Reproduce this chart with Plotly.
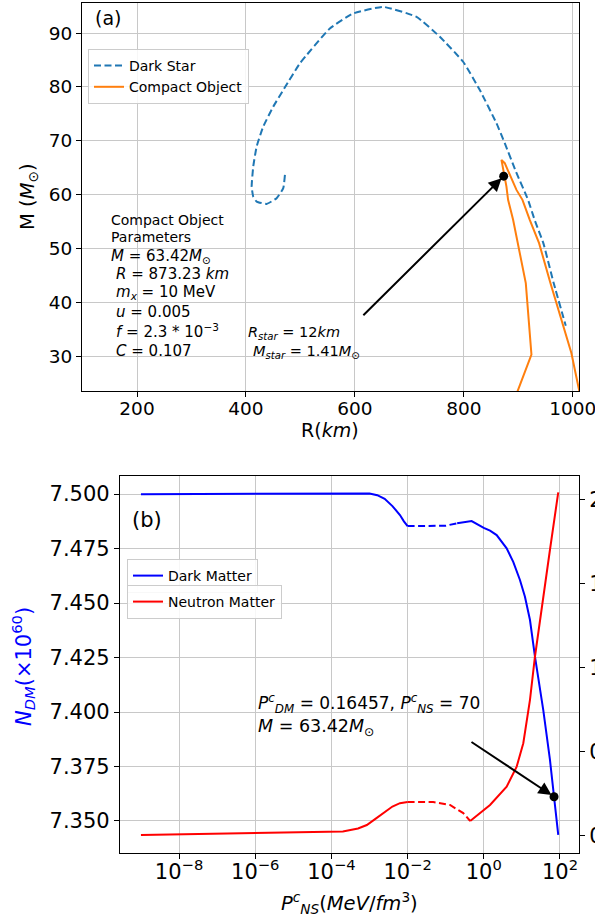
import math
import plotly.graph_objects as go

W, H = 595, 922
FONT = "DejaVu Sans"

# ---------------- Panel (a) data ----------------
dark_star_R = [471.6, 468.5, 456.3, 438.0, 419.6, 413.4, 410.5, 413.4, 419.6, 431.7,
               450.1, 471.6, 499.1, 554.1, 596.9, 651.9, 713.2, 756.0, 798.8, 829.4,
               860.0, 875.2, 896.0, 918.0, 930.0, 946.0, 965.0, 987.2]
dark_star_M = [63.65, 61.19, 59.33, 58.27, 58.70, 59.63, 61.48, 65.19, 68.91, 72.62,
               76.33, 79.93, 84.38, 90.87, 93.65, 94.88, 93.03, 89.32, 84.68, 79.42,
               73.25, 69.54, 64.20, 59.00, 55.31, 50.98, 43.56, 35.64]
compact_R = [898.5, 924.2, 913.8, 899.6, 890.5, 881.3, 878.3, 869.1, 875.2, 896.7,
             907.7, 921.1, 938.2, 959.0, 982.2, 997.5, 1013.0]
compact_M = [23.4, 30.26, 43.56, 50.36, 55.31, 59.02, 61.48, 66.44, 65.83, 60.87,
             59.02, 55.31, 50.98, 43.56, 35.64, 30.57, 23.0]
co_point_R = 873.23
co_point_M = 63.42
a_xticks = [200, 400, 600, 800, 1000]
a_yticks = [30, 40, 50, 60, 70, 80, 90]

# ---------------- Panel (b) data ----------------
dm_P_solid1 = [1e-9, 1e-7, 1e-5, 1e-4, 1e-3, 1.6e-3, 2.5e-3, 4.0e-3, 6.3e-3, 8.0e-3, 1.0e-2]
dm_N_solid1 = [7.4999, 7.5001, 7.5003, 7.5004, 7.5003, 7.4995, 7.4978, 7.4945, 7.4904, 7.4875, 7.4853]
dm_P_dash = [1.0e-2, 3.0e-2, 0.1, 0.2]
dm_N_dash = [7.4853, 7.4853, 7.4855, 7.4866]
dm_P_solid2 = [0.2, 0.48, 1.0, 1.46, 2.18, 3.99, 5.94, 8.91, 12.05, 16.33, 22.08, 36.5, 54.7, 70.0, 90.2]
dm_N_solid2 = [7.4866, 7.4876, 7.4845, 7.4832, 7.4812, 7.4751, 7.4689, 7.4606, 7.4529, 7.4422,
               7.4254, 7.4009, 7.3780, 7.3611, 7.3436]

ns_P_solid1 = [1e-9, 1e-7, 1e-5, 1e-4, 2.0e-4, 5.0e-4, 8.5e-4, 1.4e-3, 2.3e-3, 4.0e-3, 6.3e-3, 1.0e-2]
ns_V_solid1 = [0.006, 0.015, 0.023, 0.025, 0.027, 0.045, 0.065, 0.100, 0.135, 0.175, 0.195, 0.202]
ns_P_dash = [1.0e-2, 0.047, 0.13, 0.29, 0.44]
ns_V_dash = [0.202, 0.202, 0.184, 0.136, 0.089]
ns_P_solid2 = [0.44, 1.46, 3.99, 7.31, 10.9, 16.33, 22.08, 36.5, 54.7, 90.2]
ns_V_solid2 = [0.089, 0.184, 0.293, 0.412, 0.551, 0.809, 1.066, 1.403, 1.700, 2.041]

dm_point_P = 70.0
dm_point_N = 7.3611

b_xticks = [1e-8, 1e-6, 1e-4, 1e-2, 1e0, 1e2]
b_xticklabels = ["10<sup>−8</sup>", "10<sup>−6</sup>", "10<sup>−4</sup>",
                 "10<sup>−2</sup>", "10<sup>0</sup>", "10<sup>2</sup>"]
b_yticks = [7.350, 7.375, 7.400, 7.425, 7.450, 7.475, 7.500]
b_y2ticks = [0.0, 0.5, 1.0, 1.5, 2.0]


def px_x(p):
    return p / W


def px_y(p):
    return 1 - p / H


fig = go.Figure()

# ---- Panel (a) traces ----
fig.add_trace(go.Scatter(x=dark_star_R, y=dark_star_M, mode="lines", name="Dark Star",
                         line=dict(color="#1f77b4", width=2, dash="7px,3.5px", shape="spline", smoothing=0.4),
                         xaxis="x", yaxis="y", legend="legend"))
fig.add_trace(go.Scatter(x=compact_R, y=compact_M, mode="lines", name="Compact Object",
                         line=dict(color="#ff7f0e", width=2),
                         xaxis="x", yaxis="y", legend="legend"))
fig.add_trace(go.Scatter(x=[co_point_R], y=[co_point_M], mode="markers", showlegend=False,
                         marker=dict(color="black", size=9), xaxis="x", yaxis="y"))

# ---- Panel (b) traces ----
fig.add_trace(go.Scatter(x=dm_P_solid1, y=dm_N_solid1, mode="lines", name="Dark Matter",
                         line=dict(color="#0000ff", width=2), xaxis="x2", yaxis="y2", legend="legend2"))
fig.add_trace(go.Scatter(x=dm_P_dash, y=dm_N_dash, mode="lines", showlegend=False,
                         line=dict(color="#0000ff", width=2, dash="7px,3.5px"), xaxis="x2", yaxis="y2"))
fig.add_trace(go.Scatter(x=dm_P_solid2, y=dm_N_solid2, mode="lines", showlegend=False,
                         line=dict(color="#0000ff", width=2), xaxis="x2", yaxis="y2"))
fig.add_trace(go.Scatter(x=[dm_point_P], y=[dm_point_N], mode="markers", showlegend=False,
                         marker=dict(color="black", size=9), xaxis="x2", yaxis="y2"))

fig.add_trace(go.Scatter(x=ns_P_solid1, y=ns_V_solid1, mode="lines", name="Neutron Matter",
                         line=dict(color="#ff0000", width=2), xaxis="x2", yaxis="y3", legend="legend3"))
fig.add_trace(go.Scatter(x=ns_P_dash, y=ns_V_dash, mode="lines", showlegend=False,
                         line=dict(color="#ff0000", width=2, dash="7px,3.5px"), xaxis="x2", yaxis="y3"))
fig.add_trace(go.Scatter(x=ns_P_solid2, y=ns_V_solid2, mode="lines", showlegend=False,
                         line=dict(color="#ff0000", width=2), xaxis="x2", yaxis="y3"))

axis_common = dict(showline=True, linecolor="black", linewidth=1.2, mirror=True,
                   ticks="outside", ticklen=5, tickwidth=1.2, tickcolor="black",
                   showgrid=True, gridcolor="#c8c8c8", gridwidth=1, zeroline=False,
                   automargin=False, ticklabeloverflow="allow")

legend_style = dict(bgcolor="rgba(255,255,255,0.85)", bordercolor="#cccccc", borderwidth=1,
                    font=dict(family=FONT, size=14, color="black"),
                    xanchor="left", yanchor="top")

fig.update_layout(
    width=W, height=H, template="none",
    margin=dict(l=0, r=0, t=0, b=0),
    paper_bgcolor="white", plot_bgcolor="white",
    font=dict(family=FONT, color="black"),
    xaxis=dict(domain=[px_x(82), px_x(579)], range=[99, 1011.5], anchor="y",
               tickvals=a_xticks, tickfont=dict(size=18.5), ticklabelstandoff=-4, **axis_common),
    yaxis=dict(domain=[px_y(391), px_y(3)], range=[23.5, 95.6], anchor="x",
               tickvals=a_yticks, tickfont=dict(size=18.5), **axis_common),
    xaxis2=dict(type="log", domain=[px_x(120), px_x(579)], range=[-9.55, 2.5], anchor="y2",
                tickvals=b_xticks, ticktext=b_xticklabels, tickfont=dict(size=21),
                ticklabelstandoff=-5, **axis_common),
    yaxis2=dict(domain=[px_y(853), px_y(476)], range=[7.3353, 7.5083], anchor="x2",
                tickvals=b_yticks, tickformat=".3f", tickfont=dict(size=21), **axis_common),
    yaxis3=dict(overlaying="y2", side="right", anchor="x2", range=[-0.101, 2.138],
                tickvals=b_y2ticks, tickformat=".1f", tickfont=dict(size=21),
                showline=True, linecolor="black", linewidth=1.2, ticks="outside", ticklen=5,
                tickwidth=1.2, tickcolor="black", showgrid=False, zeroline=False,
                automargin=False, ticklabeloverflow="allow"),
    legend=dict(x=px_x(88), y=px_y(49), **legend_style),
    legend2=dict(x=px_x(127), y=px_y(559), **legend_style),
    legend3=dict(x=px_x(127), y=px_y(585), **legend_style),
    showlegend=True,
)

ann = []


def text_ann(x, y, text, size, xref="x", yref="y", xanchor="left", **kw):
    color = kw.pop("color", "black")
    ann.append(dict(x=x, y=y, xref=xref, yref=yref, text=text, showarrow=False,
                    xanchor=xanchor, yanchor="middle",
                    font=dict(family=FONT, size=size, color=color), **kw))


# Panel (a) texts
text_ann(119.3, 92.8, "(a)", 19)
text_ann(148.6, 55.31, "Compact Object", 14)
text_ann(148.6, 52.15, "Parameters", 14)
text_ann(148.6, 48.44, "<i>M</i> = 63.42<i>M</i><sub>⊙</sub>", 15)
text_ann(157.8, 45.29, "<i>R</i> = 873.23 <i>km</i>", 15)
text_ann(157.8, 41.76, "<i>m<sub>x</sub></i> = 10 MeV", 15)
text_ann(157.8, 38.24, "<i>u</i> = 0.005", 15)
text_ann(157.8, 34.71, "<i>f</i> = 2.3 * 10<sup>−3</sup>", 15)
text_ann(157.8, 31.0, "<i>C</i> = 0.107", 15)
text_ann(400.0, 34.34, "<i>R<sub>star</sub></i> = 12<i>km</i>", 14.5)
text_ann(409.2, 30.8, "<i>M<sub>star</sub></i> = 1.41<i>M</i><sub>⊙</sub>", 14.5)

# Panel (b) texts (log axis -> log10 positions)
text_ann(-9.286, 7.4881, "(b)", 21, xref="x2", yref="y2")
text_ann(-5.98, 7.4041, "<i>P</i><sup><i>c</i></sup><sub><i>DM</i></sub> = 0.16457, "
                        "<i>P</i><sup><i>c</i></sup><sub><i>NS</i></sub> = 70", 17, xref="x2", yref="y2")
text_ann(-5.98, 7.3931, "<i>M</i> = 63.42<i>M</i><sub>⊙</sub>", 17.5, xref="x2", yref="y2")

# Axis titles
text_ann(px_x(330), px_y(430), "R(<i>km</i>)", 19, xref="paper", yref="paper", xanchor="center")
text_ann(px_x(29), px_y(197), "M (<i>M</i><sub>⊙</sub>)", 19.5, xref="paper", yref="paper",
         xanchor="center", textangle=-90)
text_ann(px_x(349), px_y(903), "<i>P</i><sup><i>c</i></sup><sub><i>NS</i></sub>(<i>MeV</i>/<i>fm</i><sup>3</sup>)",
         19.5, xref="paper", yref="paper", xanchor="center")
text_ann(px_x(23), px_y(667), "<i>N</i><sub><i>DM</i></sub>(×10<sup>60</sup>)", 21, xref="paper", yref="paper",
         xanchor="center", textangle=-90, color="#0000ff")

# Arrows
ann.append(dict(x=co_point_R, y=co_point_M, xref="x", yref="y", ax=612.8, ay=37.31,
                axref="x", ayref="y", text="", showarrow=True, arrowhead=2, arrowsize=1.3,
                arrowwidth=2, arrowcolor="black", standoff=3))
ann.append(dict(x=math.log10(dm_point_P), y=dm_point_N, xref="x2", yref="y2",
                ax=-0.362, ay=7.3867, axref="x2", ayref="y2", text="", showarrow=True,
                arrowhead=2, arrowsize=1.3, arrowwidth=2, arrowcolor="black", standoff=3))

fig.update_layout(annotations=ann)

fig.write_html("out.html", config={"displayModeBar": False},
               post_script="document.body.style.margin='0';document.body.style.overflow='hidden';")
